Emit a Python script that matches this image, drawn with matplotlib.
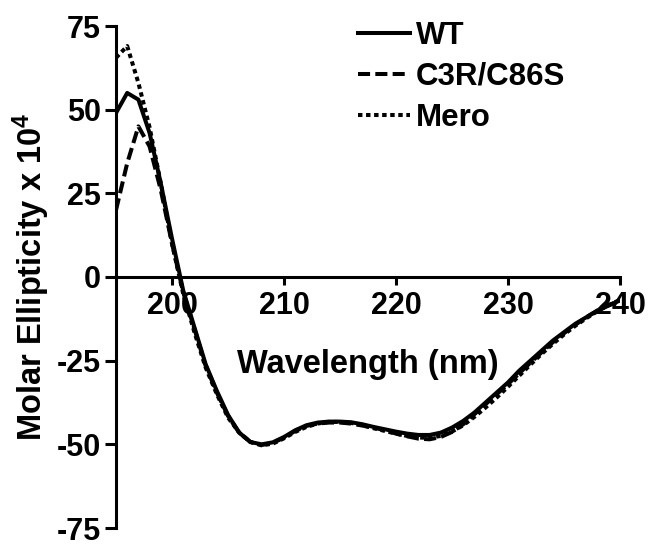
import numpy as np
import matplotlib
matplotlib.use("Agg")
import matplotlib.pyplot as plt

plt.rcParams['font.family'] = ['Liberation Sans', 'DejaVu Sans']
plt.rcParams['font.weight'] = 'bold'
plt.rcParams['axes.unicode_minus'] = False
plt.rcParams['mathtext.fontset'] = 'custom'
plt.rcParams['mathtext.rm'] = 'Liberation Sans:bold'
plt.rcParams['mathtext.bf'] = 'Liberation Sans:bold'
plt.rcParams['mathtext.default'] = 'bf'

# wavelength grid (nm)
wavelength = list(range(195, 241))

wt = [49, 55, 53, 43, 28, 11.5, -4, -15, -26, -34, -41.2, -46.5, -49.3, -50, -49.4,
      -47.8, -45.8, -44.3, -43.5, -43.2, -43.2, -43.4, -44, -44.8, -45.5, -46.2,
      -46.8, -47.2, -47.2, -46.5, -45, -43, -40.5, -37.5, -34.5, -31.5, -28, -25,
      -22, -19, -16.5, -14, -12, -10, -8.5, -7]

c3r_c86s = [20, 34, 45, 39, 26, 10, -4.5, -15.5, -26.5, -34.5, -41.5, -46.5, -49.3,
            -50.2, -49.6, -48, -46, -44.5, -43.8, -43.5, -43.5, -43.8, -44.4, -45,
            -45.8, -46.8, -47.6, -48.3, -48.5, -47.8, -46.3, -44, -41, -38, -35,
            -32, -28.8, -25.6, -22.5, -19.5, -16.8, -14.3, -12, -10, -8.4, -7]

mero = [65.5, 69, 58, 44.7, 28, 10, -5, -16.5, -27, -35, -42, -46.5, -49.3, -50.3,
        -49.8, -48.2, -46.3, -44.8, -43.8, -43.3, -43.3, -43.6, -44.3, -45.2, -46,
        -46.8, -47.5, -48, -48, -47.5, -46.2, -44.3, -41.8, -39, -36, -32.8, -29.5,
        -26.2, -23, -20, -17.2, -14.6, -12.3, -10.2, -8.4, -6.8]

x_ticks = [200, 210, 220, 230, 240]
y_ticks = [-75, -50, -25, 0, 25, 50, 75]

fig = plt.figure(figsize=(6.57, 5.51), dpi=100)
ax = fig.add_axes([116 / 657, 1 - 528 / 551, (620 - 116) / 657, (528 - 26) / 551])

lw = 2.9
ax.plot(wavelength, wt, color='black', lw=lw, label='WT')
ax.plot(wavelength, c3r_c86s, color='black', lw=lw, ls=(0, (3.0, 1.3)), label='C3R/C86S')
ax.plot(wavelength, mero, color='black', lw=lw, ls=(0, (1.1, 0.9)), label='Mero')

ax.set_xlim(195, 240)
ax.set_ylim(-75, 75)
ax.set_xticks(x_ticks)
ax.set_yticks(y_ticks)

ax.spines['top'].set_visible(False)
ax.spines['right'].set_visible(False)
ax.spines['bottom'].set_position(('data', 0))
for s in ('left', 'bottom'):
    ax.spines[s].set_linewidth(2.2)
ax.tick_params(axis='x', width=2.2, length=6, labelsize=22, direction='out', pad=4)
ax.tick_params(axis='y', width=2.2, length=8, labelsize=22, direction='out', pad=3)
for lab in ax.get_xticklabels() + ax.get_yticklabels():
    lab.set_fontweight('bold')

ax.set_xlabel('Wavelength (nm)', fontsize=23.5, fontweight='bold', labelpad=20)
ax.set_ylabel('Molar Ellipticity x 10$^4$', fontsize=23.5, fontweight='bold', labelpad=3)

leg = ax.legend(loc='upper left', bbox_to_anchor=(358 / 657, 1 - 21 / 551),
                bbox_transform=fig.transFigure, frameon=False, borderpad=0,
                borderaxespad=0, handlelength=1.65, handletextpad=0.2,
                labelspacing=0.35, prop={'weight': 'bold', 'size': 22.5})

fig.savefig('out.png', dpi=100)
